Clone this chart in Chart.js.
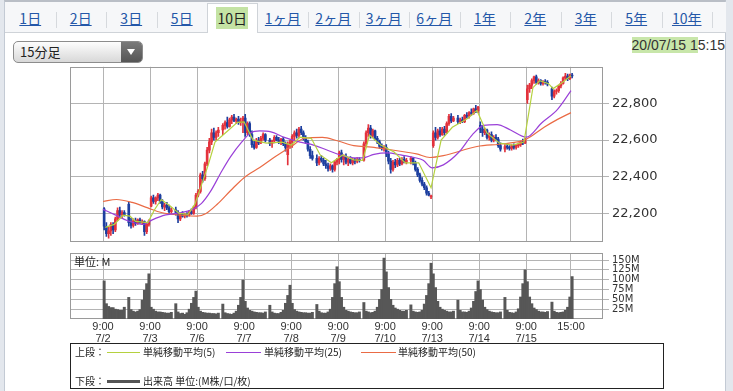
<!DOCTYPE html>
<html>
<head>
<meta charset="utf-8">
<script src="https://cdn.jsdelivr.net/npm/chart.js@4.4.1/dist/chart.umd.min.js"></script>
<style>
body { margin: 0; width: 733px; height: 391px; overflow: hidden; background: #e3e7ed; font-family: "Noto Sans CJK JP", sans-serif; position: relative; }
#page { position: absolute; left: 4px; top: 0; width: 722px; height: 391px; background: #fff; border-left: 1px solid #c3cad4; border-right: 1px solid #c3cad4; border-top: 2px solid #b9bec6; box-sizing: border-box; }
#tabbar { position: absolute; left: 5px; top: 2px; width: 721px; height: 30px; background: #f6f7f9; border-bottom: 1px solid #cfd3d8; }
.tab { position: absolute; top: 4px; height: 28px; width: 50.5px; text-align: center; line-height: 28px; font-size: 14px; }
.tab a { color: #2457a8; text-decoration: underline; }
.tab.sel { background: #fff; border: 1px solid #cfd3d8; border-bottom: none; top: 3px; height: 30px; box-sizing: border-box; line-height: 28px; }
.tab.sel span { background: #c4e3a4; color: #222; padding: 1px 1px; }
.sep { position: absolute; top: 12px; width: 1px; height: 16px; background: #d6d9dd; }
#select { position: absolute; left: 13px; top: 41px; width: 130px; height: 22px; box-sizing: border-box; border: 1px solid #8c8c8c; border-radius: 5px; background: linear-gradient(#fdfdfd, #d8d8d8); font-size: 13px; line-height: 20px; color: #222; }
#select .txt { position: absolute; left: 6px; top: 0; }
#select .btn { position: absolute; right: 0; top: 0; width: 21px; height: 20px; border-radius: 0 4px 4px 0; background: linear-gradient(#7a7a7a, #555); }
#select .btn i { position: absolute; left: 6px; top: 7px; width: 0; height: 0; border-left: 4px solid transparent; border-right: 4px solid transparent; border-top: 6px solid #fff; }
#stamp { position: absolute; right: 8px; top: 37px; font-family: "Liberation Sans", sans-serif; font-size: 14px; color: #333; }
#stamp span { background: #c8e6aa; }
canvas { position: absolute; }
#legend { position: absolute; left: 70px; top: 343px; width: 594px; height: 46px; box-sizing: border-box; border: 1px solid #222; font-size: 10px; color: #222; }
#legend div { position: absolute; line-height: 12px; white-space: nowrap; }
#legend .ln { height: 0; }
</style>
</head>
<body>
<div id="page"></div>
<div id="tabbar"></div>
<div id="select"><span class="txt">15分足</span><span class="btn"><i></i></span></div>
<div id="stamp"><span>20/07/15 1</span>5:15</div>
<canvas id="priceChart" width="673" height="197" style="left:60px;top:56px"></canvas>
<canvas id="volChart" width="673" height="106" style="left:60px;top:243px"></canvas>
<div id="legend">
  <div style="left:4px;top:2px">上段：</div>
  <div class="ln" style="left:36px;top:8px;width:33px;border-top:1.5px solid #b5d13f"></div>
  <div style="left:72px;top:2px">単純移動平均(5)</div>
  <div class="ln" style="left:155px;top:8px;width:35px;border-top:1.5px solid #9a40d8"></div>
  <div style="left:193px;top:2px">単純移動平均(25)</div>
  <div class="ln" style="left:290px;top:8px;width:35px;border-top:1.5px solid #ea6b45"></div>
  <div style="left:327px;top:2px">単純移動平均(50)</div>
  <div style="left:4px;top:31px">下段：</div>
  <div class="ln" style="left:36px;top:36px;width:33px;border-top:3px solid #555"></div>
  <div style="left:72px;top:31px">出来高 単位:(M株/口/枚)</div>
</div>
<script>
// 15-minute bars, 7/2 - 7/15, 20 bars a day (10 morning, 10 afternoon)
const dates = ['7/2', '7/3', '7/6', '7/7', '7/8', '7/9', '7/10', '7/13', '7/14', '7/15'];
const openTime = '9:00';
const closeTime = '15:00';

const opens = [
  22225,22130,22090,22105,22140,22110,22170,22215,22195,22205,22250,22150,22135,22160,22145,22165,22150,22155,22100,22140,
  22240,22285,22265,22285,22300,22265,22235,22245,22230,22210,22220,22205,22170,22195,22185,22195,22190,22210,22200,22235,
  22300,22320,22410,22390,22470,22545,22590,22640,22615,22640,22655,22680,22695,22675,22710,22725,22705,22715,22695,22700,
  22720,22640,22690,22630,22575,22560,22600,22585,22610,22630,22600,22580,22595,22615,22600,22590,22605,22580,22520,22575,
  22590,22620,22640,22625,22660,22640,22610,22590,22550,22515,22500,22475,22500,22490,22470,22460,22445,22460,22440,22480,
  22495,22530,22495,22510,22480,22495,22475,22490,22485,22495,22490,22580,22640,22665,22625,22650,22610,22590,22565,22555,
  22560,22525,22485,22440,22480,22465,22490,22470,22495,22480,22490,22500,22475,22440,22410,22380,22360,22340,22310,22290,
  22570,22640,22615,22650,22630,22660,22640,22690,22730,22705,22720,22700,22710,22700,22735,22730,22750,22745,22770,22760,
  22680,22660,22640,22655,22615,22630,22600,22615,22605,22570,22550,22565,22560,22555,22570,22560,22570,22575,22590,22585,
  22820,22880,22900,22925,22945,22915,22925,22910,22920,22915,22880,22840,22865,22870,22895,22910,22940,22950,22935,22955
];
const highs = [
  22232,22150,22125,22150,22150,22180,22230,22235,22215,22215,22260,22175,22170,22175,22170,22175,22165,22160,22150,22165,
  22295,22300,22290,22310,22305,22275,22255,22260,22245,22230,22235,22215,22200,22210,22200,22205,22215,22225,22240,22310,
  22330,22420,22430,22480,22560,22610,22660,22665,22650,22670,22690,22705,22725,22720,22735,22740,22720,22730,22720,22730,
  22740,22700,22700,22650,22600,22610,22615,22620,22640,22635,22610,22600,22625,22625,22615,22610,22615,22590,22590,22600,
  22630,22650,22660,22670,22675,22650,22625,22600,22565,22540,22520,22510,22515,22500,22490,22475,22470,22465,22490,22500,
  22540,22545,22520,22525,22505,22510,22500,22500,22505,22505,22590,22650,22685,22680,22660,22655,22620,22600,22580,22570,
  22575,22540,22500,22490,22495,22500,22500,22505,22510,22500,22510,22505,22485,22450,22420,22395,22370,22350,22320,22300,
  22650,22670,22660,22670,22670,22675,22700,22740,22745,22730,22735,22720,22725,22740,22750,22755,22770,22775,22790,22785,
  22700,22680,22665,22660,22640,22645,22625,22630,22615,22585,22575,22580,22570,22575,22580,22575,22585,22595,22605,22610,
  22900,22910,22935,22950,22955,22935,22930,22925,22930,22925,22890,22875,22880,22900,22920,22945,22965,22960,22960,22965
];
const lows = [
  22110,22075,22065,22080,22090,22100,22160,22180,22175,22185,22130,22120,22125,22135,22140,22145,22140,22080,22090,22130,
  22235,22255,22250,22270,22255,22225,22215,22220,22200,22200,22190,22150,22160,22180,22175,22180,22185,22195,22195,22225,
  22290,22310,22370,22380,22460,22530,22575,22600,22600,22620,22630,22660,22665,22670,22690,22700,22690,22685,22680,22640,
  22620,22630,22620,22560,22550,22555,22575,22580,22600,22590,22570,22560,22585,22595,22580,22575,22570,22540,22465,22555,
  22560,22600,22610,22615,22630,22600,22580,22540,22500,22490,22460,22465,22480,22460,22445,22430,22435,22425,22430,22465,
  22470,22480,22465,22470,22460,22470,22465,22470,22475,22480,22485,22570,22620,22610,22615,22600,22580,22555,22545,22540,
  22510,22470,22420,22430,22450,22455,22460,22465,22475,22470,22470,22465,22430,22400,22370,22350,22330,22300,22295,22280,
  22560,22600,22605,22620,22625,22625,22635,22680,22695,22700,22690,22690,22695,22695,22720,22720,22735,22740,22750,22750,
  22640,22620,22630,22605,22600,22590,22590,22595,22560,22540,22535,22550,22545,22545,22550,22550,22560,22565,22575,22580,
  22800,22860,22880,22910,22905,22905,22900,22900,22905,22895,22820,22830,22850,22860,22885,22905,22930,22925,22930,22940
];
const closes = [
  22130,22090,22105,22140,22110,22170,22215,22195,22205,22190,22150,22135,22160,22145,22165,22150,22155,22100,22140,22160,
  22285,22265,22285,22300,22265,22235,22245,22230,22210,22220,22205,22170,22195,22185,22195,22190,22210,22200,22235,22300,
  22320,22410,22390,22470,22545,22590,22640,22615,22640,22655,22680,22695,22675,22710,22725,22705,22715,22695,22700,22720,
  22640,22690,22630,22575,22560,22600,22585,22610,22630,22600,22580,22595,22615,22600,22590,22605,22580,22560,22575,22590,
  22620,22640,22625,22660,22640,22610,22590,22550,22515,22500,22475,22500,22490,22470,22460,22445,22460,22440,22480,22495,
  22530,22495,22510,22480,22495,22475,22490,22485,22495,22490,22580,22640,22665,22625,22650,22610,22590,22565,22555,22560,
  22525,22485,22440,22480,22465,22490,22470,22495,22480,22490,22500,22475,22440,22410,22380,22360,22340,22310,22300,22295,
  22640,22615,22650,22630,22660,22640,22690,22730,22705,22720,22700,22710,22700,22735,22730,22750,22745,22770,22760,22780,
  22660,22640,22655,22615,22630,22600,22615,22605,22570,22550,22565,22560,22555,22570,22560,22570,22575,22590,22585,22600,
  22880,22900,22925,22945,22915,22925,22910,22920,22915,22905,22840,22865,22870,22895,22910,22940,22950,22935,22955,22950
];
// volume, millions
const volumes = [
  97,39,32,29,29,25,24,22,22,30,55,24,20,18,20,24,48,73,90,115,
  30,25,20,18,18,17,16,15,15,17,39,18,14,15,12,16,25,40,55,71,
  30,20,17,16,15,15,14,14,13,15,38,16,14,13,12,15,20,35,55,99,
  45,28,22,20,18,17,16,16,15,18,35,18,15,14,14,17,22,40,60,86,
  40,24,20,18,17,16,16,15,15,17,37,20,16,15,15,18,25,55,90,133,
  95,55,30,22,20,18,17,16,16,18,42,20,18,16,17,20,30,50,75,155,
  120,80,50,35,28,25,22,20,20,22,36,20,18,17,18,22,38,60,90,142,
  115,80,45,30,25,22,20,18,18,20,48,22,18,18,17,20,28,45,70,97,
  75,48,30,24,20,18,17,16,16,18,55,22,17,16,15,18,26,56,90,125,
  95,56,39,28,24,20,18,18,17,19,43,20,17,16,17,18,22,30,56,108
];

// moving averages; position is in bar slots from 7/2 9:00
const ma5Pos = [1,5,9,12,14.5,20,23,26,30,34,38,41,47,50,55,60,63,67,73,80,84,88,93,97,102,107,112,116,119,124,130,135,141,146.5,151,156,163,167,171.5,177,183,188,192,195,199,201,205,209];
const ma5Val = [22124,22140,22190,22185,22157,22150,22220,22276,22240,22200,22195,22249,22465,22589,22643,22697,22700,22600,22584,22589,22573,22616,22610,22519,22476,22519,22492,22490,22627,22573,22535,22476,22476,22340,22600,22670,22719,22762,22638,22584,22573,22589,22886,22924,22908,22881,22913,22951];
const ma25Pos = [0,5,11,18,22,28,35,40,44,48,53,57,62,66,70,75,81,88,94,100,106,112,116,121,127,133,139,143,147,152,159,165,170,176,182,189,196,203,209];
const ma25Val = [22222,22195,22160,22140,22165,22192,22205,22222,22255,22320,22430,22510,22590,22640,22650,22645,22615,22589,22573,22546,22519,22503,22503,22522,22530,22519,22505,22490,22449,22465,22535,22630,22680,22685,22655,22616,22695,22768,22870];
const ma50Pos = [0,6,13,20,26,35,42,46,51,57,63,70,77,84,90,98,105,112,120,127,135,140,146,152,167,179,189,197,203,209];
const ma50Val = [22265,22276,22260,22230,22205,22190,22185,22200,22250,22325,22395,22450,22510,22565,22610,22615,22595,22570,22562,22550,22535,22525,22505,22515,22565,22580,22605,22670,22713,22750];

const priceTicks = [22200, 22400, 22600, 22800];
const volumeTicks = [25, 50, 75, 100, 125, 150];

const SLOTS = 21;                        // slot 10 is the lunch break
const sessionSlot = i => (i < 10 ? i : i + 1);
const slotX = i => Math.floor(i / 20) * SLOTS + sessionSlot(i % 20) + 0.5;

const UP = '#e3323c', DOWN = '#1d3f9f', GRID = '#b4b4b4';
Chart.defaults.font.family = '"DejaVu Sans", sans-serif';

const xTickValues = dates.map((d, i) => i * SLOTS).concat([(dates.length - 1) * SLOTS + 20]);
const xLabel = v => {
  const i = xTickValues.indexOf(v);
  return i < dates.length ? [openTime, dates[i]] : closeTime;
};

function xAxis(withLabels) {
  return {
    type: 'linear', min: -14.75, max: 223.3, offset: false,
    afterBuildTicks: s => { s.ticks = xTickValues.map(v => ({ value: v })); },
    afterFit: s => { s.height = withLabels ? 30 : 0; },
    grid: { color: GRID, drawTicks: false, offset: false },
    border: { display: false },
    ticks: {
      display: withLabels, autoSkip: false, maxRotation: 0, padding: 2, color: '#333',
      font: { family: '"Liberation Sans", sans-serif', size: 11, lineHeight: 1.1 },
      callback: v => xLabel(v)
    }
  };
}

const frame = {
  id: 'frame',
  beforeDatasetsDraw(chart) {
    const { ctx, chartArea: a } = chart;
    ctx.save();
    ctx.strokeStyle = '#9a9a9a';
    ctx.lineWidth = 1;
    ctx.strokeRect(Math.round(a.left) + 0.5, Math.round(a.top) + 0.5, Math.round(a.width) - 1, Math.round(a.height) - 1);
    ctx.restore();
  }
};

const colors = closes.map((c, i) => (c >= opens[i] ? UP : DOWN));
const wicks = closes.map((c, i) => ({ x: slotX(i), y: [lows[i], highs[i]] }));
const bodies = closes.map((c, i) => ({ x: slotX(i), y: [opens[i], c] }));
const line = (pos, val) => pos.map((p, i) => ({ x: p, y: val[i] }));

new Chart(document.getElementById('priceChart'), {
  type: 'bar',
  data: {
    datasets: [
      { type: 'line', data: line(ma5Pos, ma5Val), borderColor: '#b5d13f', borderWidth: 1.2, pointRadius: 0, order: 1 },
      { type: 'line', data: line(ma25Pos, ma25Val), borderColor: '#9a40d8', borderWidth: 1.2, pointRadius: 0, cubicInterpolationMode: 'monotone', order: 1 },
      { type: 'line', data: line(ma50Pos, ma50Val), borderColor: '#ea6b45', borderWidth: 1.2, pointRadius: 0, cubicInterpolationMode: 'monotone', order: 1 },
      { data: bodies, backgroundColor: colors, barThickness: 2, minBarLength: 1, grouped: false, order: 2 },
      { data: wicks, backgroundColor: colors, barThickness: 1, grouped: false, order: 3 }
    ]
  },
  options: {
    responsive: false, animation: false, events: [],
    layout: { padding: { left: 10, top: 10, right: 0, bottom: 10 } },
    plugins: { legend: { display: false }, tooltip: { enabled: false } },
    scales: {
      x: xAxis(false),
      y: {
        position: 'right', min: 22043, max: 23000,
        afterBuildTicks: s => { s.ticks = priceTicks.map(v => ({ value: v })); },
        afterFit: s => { s.width = 130; },
        grid: { color: GRID, tickLength: 6 },
        border: { display: false },
        ticks: { padding: 3, color: '#333', autoSkip: false, font: { size: 13 }, callback: v => v.toLocaleString('en-US') }
      }
    }
  },
  plugins: [frame]
});

const unitLabel = {
  id: 'unitLabel',
  afterDatasetsDraw(chart) {
    const { ctx, chartArea: a } = chart;
    ctx.save();
    ctx.font = '11px "Noto Sans CJK JP"';
    ctx.fillStyle = '#222';
    ctx.textBaseline = 'middle';
    ctx.fillText('単位: M', a.left + 4, a.top + 9);
    ctx.restore();
  }
};

new Chart(document.getElementById('volChart'), {
  type: 'bar',
  data: {
    datasets: [{ data: volumes.map((v, i) => ({ x: slotX(i), y: v })), backgroundColor: '#575757', barThickness: 2.3 }]
  },
  options: {
    responsive: false, animation: false, events: [],
    layout: { padding: { left: 10, top: 10, right: 0, bottom: 0 } },
    plugins: { legend: { display: false }, tooltip: { enabled: false } },
    scales: {
      x: xAxis(true),
      y: {
        position: 'right', min: 0, max: 168,
        afterBuildTicks: s => { s.ticks = volumeTicks.map(v => ({ value: v })); },
        afterFit: s => { s.width = 130; },
        grid: { color: GRID, tickLength: 6 },
        border: { display: false },
        ticks: { padding: 3, color: '#333', autoSkip: false, font: { size: 10 }, callback: v => v + 'M' }
      }
    }
  },
  plugins: [frame, unitLabel]
});

// period tabs
const tabLabels = ['1日', '2日', '3日', '5日', '10日', '1ヶ月', '2ヶ月', '3ヶ月', '6ヶ月', '1年', '2年', '3年', '5年', '10年'];
const selectedTab = 4;
const bar = document.body;
tabLabels.forEach((t, i) => {
  const el = document.createElement('div');
  el.className = 'tab' + (i === selectedTab ? ' sel' : '');
  el.style.left = (5 + i * 50.5) + 'px';
  el.innerHTML = i === selectedTab ? '<span>' + t + '</span>' : '<a>' + t + '</a>';
  bar.appendChild(el);
  if (i !== selectedTab && i !== selectedTab - 1) {
    const s = document.createElement('div');
    s.className = 'sep';
    s.style.left = (5 + (i + 1) * 50.5) + 'px';
    bar.appendChild(s);
  }
});
</script>
</body>
</html>
